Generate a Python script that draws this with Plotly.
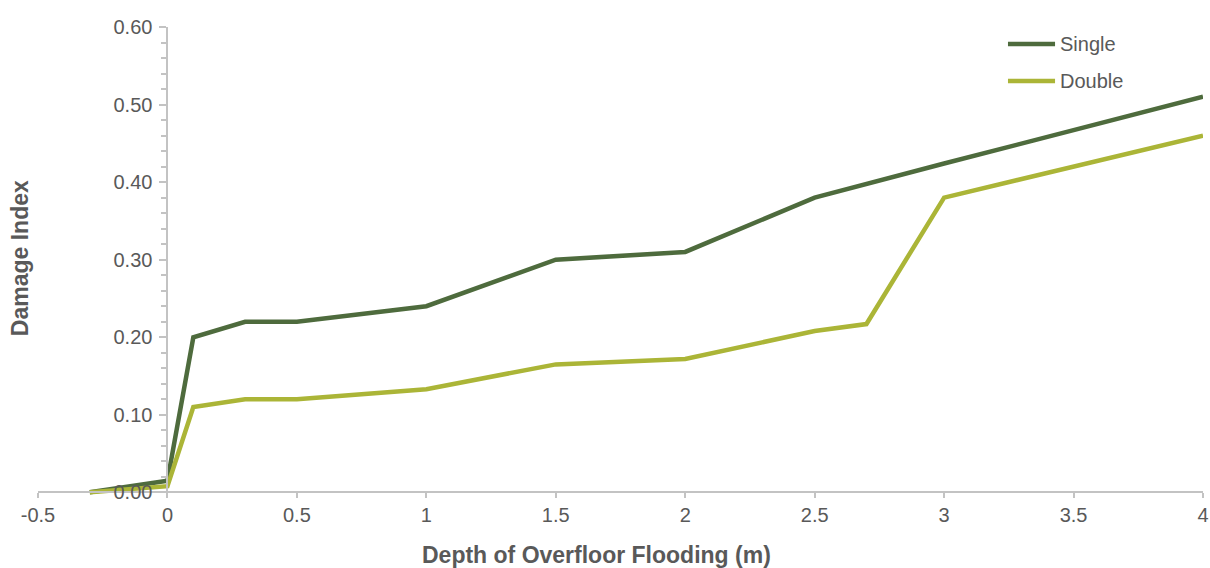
import plotly.graph_objects as go

# Depth of overfloor flooding (m) and damage index per building type
depth = [-0.3, 0.0, 0.1, 0.3, 0.5, 1.0, 1.5, 2.0, 2.5, 2.7, 3.0, 4.0]
single = [0.0, 0.015, 0.20, 0.22, 0.22, 0.24, 0.30, 0.31, 0.38, 0.397, 0.424, 0.51]
double = [0.0, 0.008, 0.11, 0.12, 0.12, 0.133, 0.165, 0.172, 0.208, 0.217, 0.38, 0.46]

series_names = ["Single", "Double"]
series_colors = ["#4e6b3d", "#abb537"]

x_ticks = [-0.5, 0, 0.5, 1, 1.5, 2, 2.5, 3, 3.5, 4]
x_tick_text = ["-0.5", "0", "0.5", "1", "1.5", "2", "2.5", "3", "3.5", "4"]
y_ticks = [0.0, 0.1, 0.2, 0.3, 0.4, 0.5, 0.6]

FONT = "Liberation Sans, Arial, sans-serif"
TEXT = "#595959"
AXIS = "#c3c3c3"

x_range = [-0.5, 4.0]
y_range = [-0.006, 0.6]

fig = go.Figure()
for name, vals, col in zip(series_names, [single, double], series_colors):
    fig.add_trace(go.Scatter(
        x=depth, y=vals, name=name, mode="lines",
        line=dict(color=col, width=4.5),
        showlegend=False,
    ))

# axis crossing points: y axis sits at depth 0, x axis at damage 0
y_axis_pos = (0 - x_range[0]) / (x_range[1] - x_range[0])
x_axis_pos = (0 - y_range[0]) / (y_range[1] - y_range[0])

fig.update_layout(
    width=1210, height=568,
    margin=dict(l=38, r=7, t=27, b=71),
    paper_bgcolor="white", plot_bgcolor="white",
    font=dict(family=FONT, size=20, color=TEXT),
    xaxis=dict(
        range=x_range, anchor="free", position=x_axis_pos, automargin=False,
        tickvals=x_ticks, ticktext=x_tick_text,
        showgrid=False, zeroline=False,
        showline=True, linecolor=AXIS, linewidth=2,
        ticks="outside", ticklen=5, tickwidth=2, tickcolor=AXIS,
        tickfont=dict(size=20, color=TEXT, family=FONT),
    ),
    yaxis=dict(
        range=y_range, anchor="free", position=y_axis_pos, automargin=False,
        tickvals=y_ticks, tickformat=".2f",
        showgrid=False, zeroline=False,
        showline=True, linecolor=AXIS, linewidth=2,
        ticks="outside", ticklen=7, tickwidth=2, tickcolor=AXIS,
        ticklabelstandoff=3,
        minor=dict(dtick=0.02, tick0=0, ticks="outside", ticklen=5,
                   tickwidth=2, tickcolor=AXIS, showgrid=False),
        tickfont=dict(size=20, color=TEXT, family=FONT),
    ),
    showlegend=False,
)

# axis titles
fig.add_annotation(
    text="<b>Depth of Overfloor Flooding (m)</b>", xref="paper", yref="paper",
    x=0.479, y=-0.123, xanchor="center", yanchor="middle", showarrow=False,
    font=dict(size=23, color=TEXT, family=FONT),
)
fig.add_annotation(
    text="<b>Damage Index</b>", xref="paper", yref="paper",
    x=-0.0155, y=0.508, xanchor="center", yanchor="middle", showarrow=False,
    textangle=-90, font=dict(size=23, color=TEXT, family=FONT),
)

# legend keys
leg_x0, leg_x1, leg_tx = 0.8326, 0.873, 0.8755
for name, col, ly in zip(series_names, series_colors, [0.9638, 0.8850]):
    fig.add_shape(type="line", xref="paper", yref="paper",
                  x0=leg_x0, x1=leg_x1, y0=ly, y1=ly,
                  line=dict(color=col, width=4.5))
    fig.add_annotation(text=name, xref="paper", yref="paper",
                       x=leg_tx, y=ly, xanchor="left", yanchor="middle",
                       showarrow=False,
                       font=dict(size=20, color=TEXT, family=FONT))

fig.write_html("out.html")
